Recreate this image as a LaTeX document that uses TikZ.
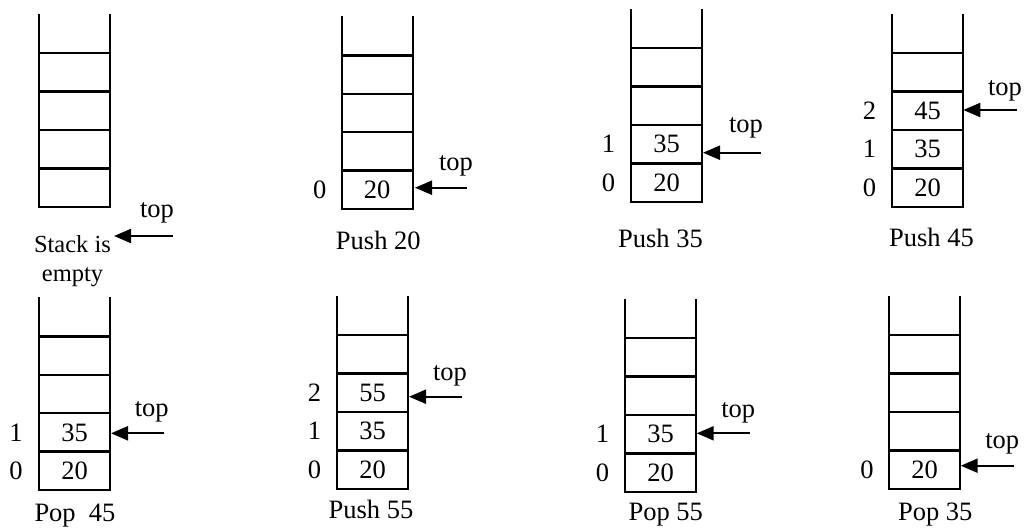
\documentclass[tikz,border=0pt]{standalone}
\usepackage{fontspec}
\setmainfont{Liberation Serif}
\usetikzlibrary{arrows.meta}
\newcommand\stk[7]{%
  \node[cell] (#1c0) at (#2,#3) {#4};
  \node[cell] (#1c1) at (#1c0.north west) {#5};
  \node[cell] (#1c2) at (#1c1.north west) {#6};
  \node[cell] (#1c3) at (#1c2.north west) {#7};
  \coordinate (#1tl) at ([yshift=39pt]#1c3.north west);
  \coordinate (#1tr) at ([yshift=39pt]#1c3.north east);
  \draw[wall] (#1c3.north west) -- (#1tl);
  \draw[wall] (#1c3.north east) -- (#1tr);
}
\begin{document}
\begin{tikzpicture}[x=1pt,y=-1pt,
  txt/.style={inner sep=0pt,outer sep=0pt,font=\fontsize{26.5}{31}\selectfont},
  cell/.style={txt,draw,line width=2.4pt,rectangle,minimum width=71pt,minimum height=38.4pt,anchor=south west},
  wall/.style={line width=2.4pt},
  idx/.style={txt},
  toplbl/.style={txt},
  captxt/.style={txt,anchor=base},
  ptr/.style={line width=2.2pt,-{Triangle[length=17pt,width=14pt]}}]
\useasboundingbox (0,0) rectangle (1026,528);

% stacks
\stk{a}{39}{206.7}{}{}{}{}
\stk{b}{341.7}{209}{20}{}{}{}
\stk{c}{631}{201.7}{20}{35}{}{}
\stk{d}{892}{206.7}{20}{35}{45}{}
\stk{e}{39}{490}{20}{35}{}{}
\stk{f}{337}{488.7}{20}{35}{55}{}
\stk{g}{625}{491.7}{20}{35}{}{}
\stk{h}{889}{488.7}{20}{}{}{}

% index labels
\node[idx] (bi0) at ([xshift=-22pt]bc0.west) {0};
\node[idx] (ci0) at ([xshift=-22.5pt]cc0.west) {0};
\node[idx] (ci1) at ([xshift=-22.5pt]cc1.west) {1};
\node[idx] (di0) at ([xshift=-22.5pt]dc0.west) {0};
\node[idx] (di1) at ([xshift=-22.5pt]dc1.west) {1};
\node[idx] (di2) at ([xshift=-22.5pt]dc2.west) {2};
\node[idx] (ei0) at ([xshift=-23pt]ec0.west) {0};
\node[idx] (ei1) at ([xshift=-23pt]ec1.west) {1};
\node[idx] (fi0) at ([xshift=-22.5pt]fc0.west) {0};
\node[idx] (fi1) at ([xshift=-22.5pt]fc1.west) {1};
\node[idx] (fi2) at ([xshift=-22.5pt]fc2.west) {2};
\node[idx] (gi0) at ([xshift=-22.5pt]gc0.west) {0};
\node[idx] (gi1) at ([xshift=-22.5pt]gc1.west) {1};
\node[idx] (hi0) at ([xshift=-22pt]hc0.west) {0};

% top pointers
\coordinate (at) at (172.7,236);   \coordinate (ah) at (114,236);
\coordinate (bt) at (467,187.7);   \coordinate (bh) at (415,187.7);
\coordinate (ct) at (760.7,152.7); \coordinate (ch) at (703,152.7);
\coordinate (dt) at (1016.7,110);  \coordinate (dh) at (963.3,110);
\coordinate (et) at (164.3,433.3); \coordinate (eh) at (111,433.3);
\coordinate (ft) at (462.3,396.7); \coordinate (fh) at (409,396.7);
\coordinate (gt) at (750,433.3);   \coordinate (gh) at (696.7,433.3);
\coordinate (ht) at (1014.3,465.7);\coordinate (hh) at (960.7,465.7);
\foreach \s in {a,b,c,d,e,f,g,h} { \draw[ptr] (\s t) -- (\s h); }

\node[toplbl] (atop) at (157,213) {top};
\node[toplbl] (btop) at (456,165.7) {top};
\node[toplbl] (ctop) at (746,128) {top};
\node[toplbl] (dtop) at (1005,91) {top};
\node[toplbl] (etop) at (151.7,411.7) {top};
\node[toplbl] (ftop) at (450,375.7) {top};
\node[toplbl] (gtop) at (738.3,412.7) {top};
\node[toplbl] (htop) at (1002.3,444) {top};

% captions
\node[inner sep=0pt,align=center,font=\fontsize{24.5}{28.4}\selectfont] (acap) at (72.5,261) {Stack is\\empty};
\node[captxt] (bcap) at (378.3,249) {Push 20};
\node[captxt] (ccap) at (660.5,247.3) {Push 35};
\node[captxt] (dcap) at (931.5,246) {Push 45};
\node[captxt] (ecap) at (75,521) {Pop\ \ 45};
\node[captxt] (fcap) at (371,518.3) {Push 55};
\node[captxt] (gcap) at (665.7,520.7) {Pop 55};
\node[captxt] (hcap) at (935.3,520.7) {Pop 35};
\end{tikzpicture}
\end{document}
